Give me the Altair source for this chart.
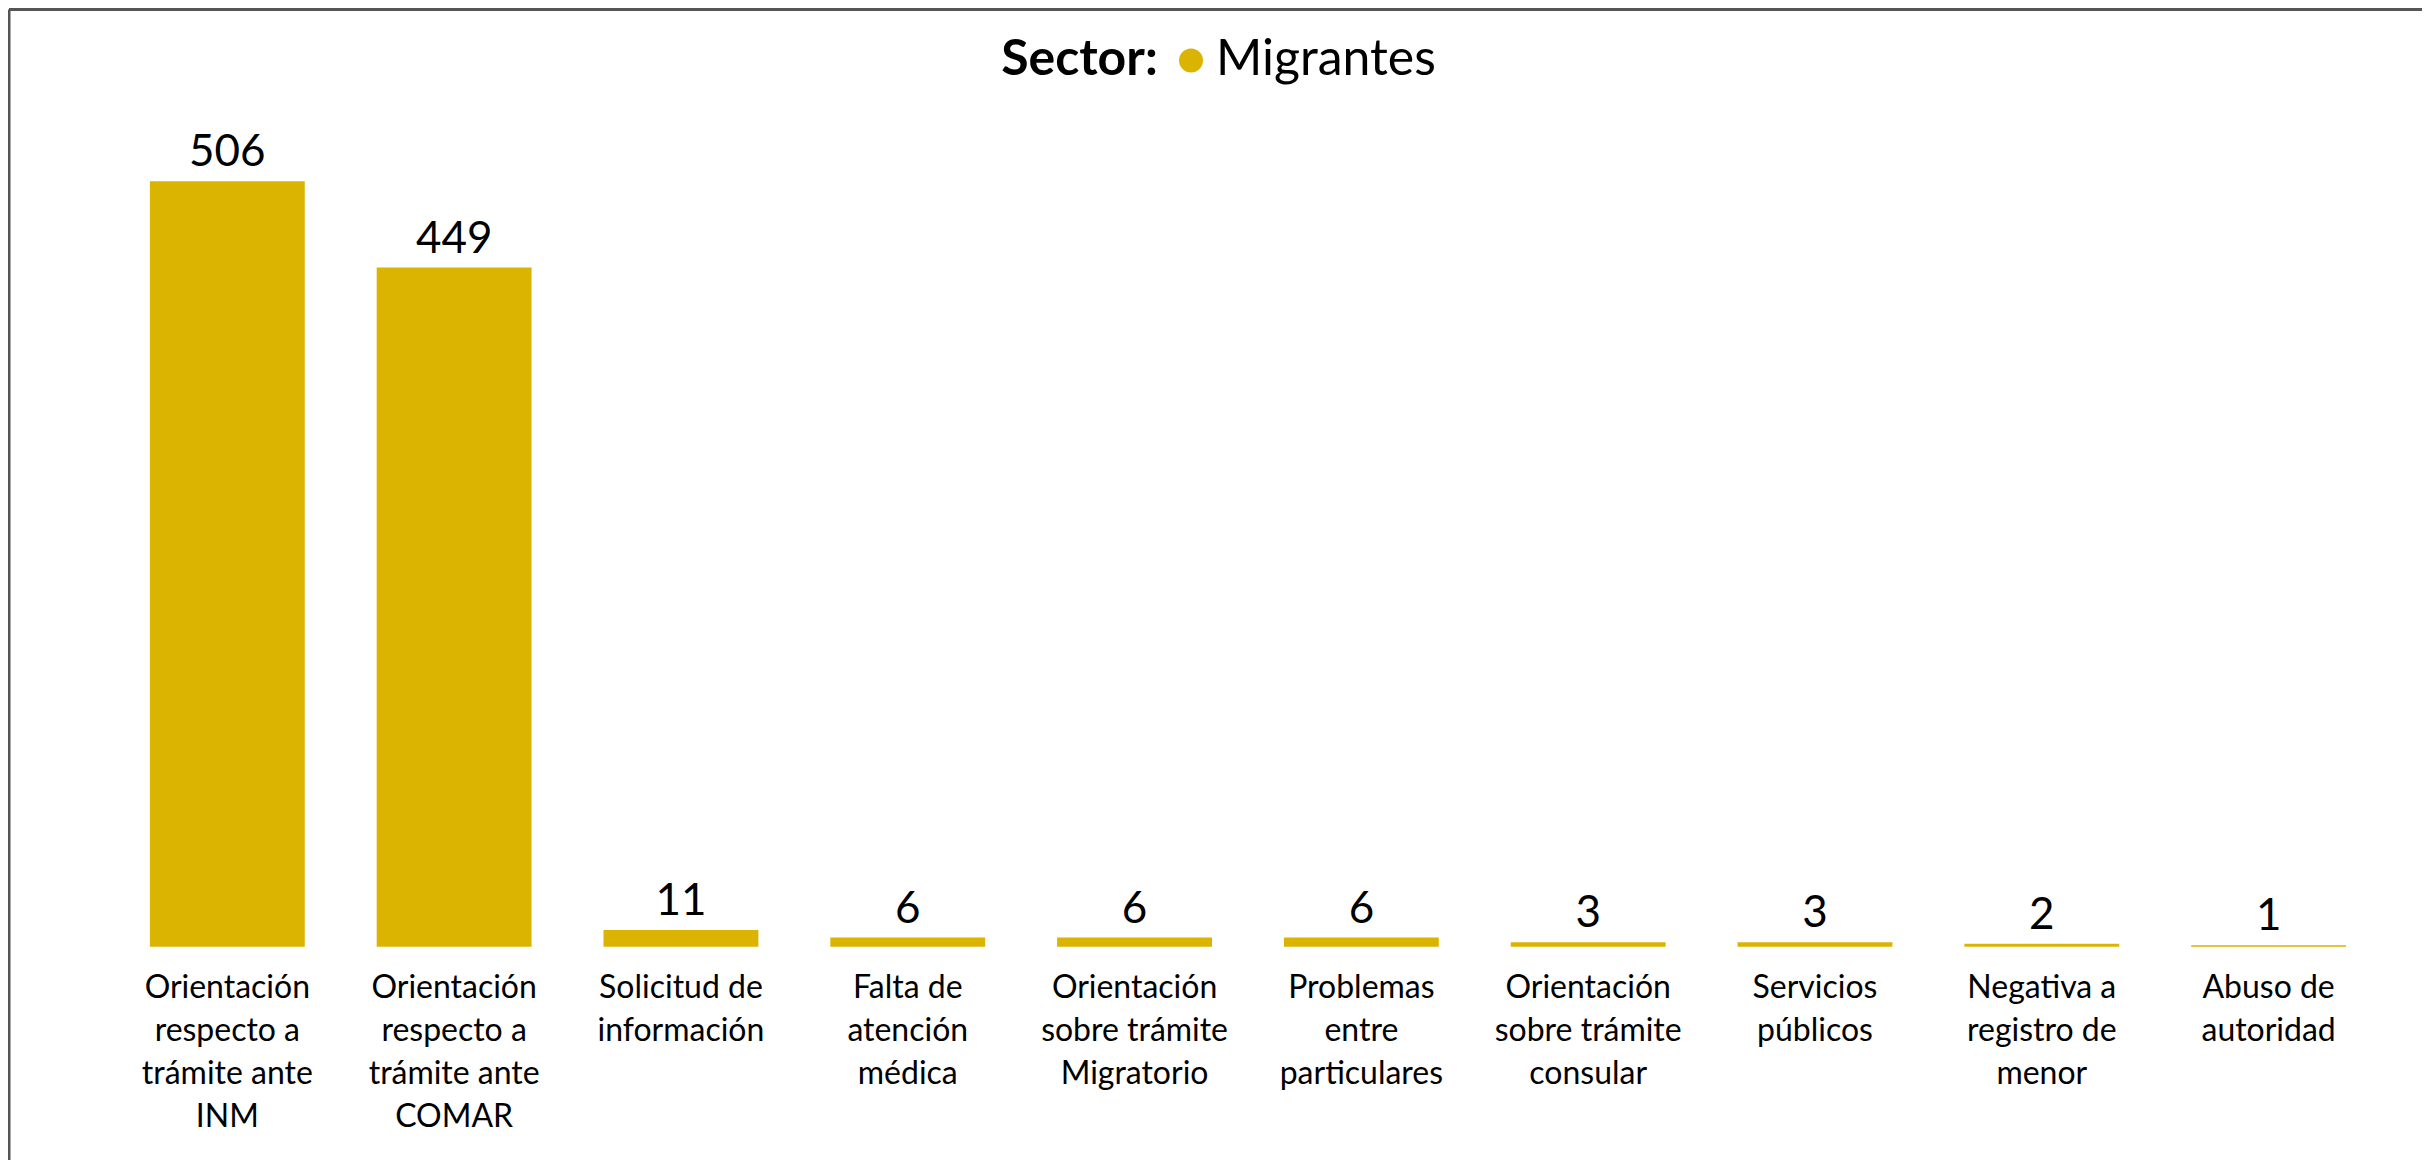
import altair as alt
import pandas as pd

categories = [
    "Orientación respecto a trámite ante INM",
    "Orientación respecto a trámite ante COMAR",
    "Solicitud de información",
    "Falta de atención médica",
    "Orientación sobre trámite Migratorio",
    "Problemas entre particulares",
    "Orientación sobre trámite consular",
    "Servicios públicos",
    "Negativa a registro de menor",
    "Abuso de autoridad",
]
label_lines = [
    "Orientación\nrespecto a\ntrámite ante\nINM",
    "Orientación\nrespecto a\ntrámite ante\nCOMAR",
    "Solicitud de\ninformación",
    "Falta de\natención\nmédica",
    "Orientación\nsobre trámite\nMigratorio",
    "Problemas\nentre\nparticulares",
    "Orientación\nsobre trámite\nconsular",
    "Servicios\npúblicos",
    "Negativa a\nregistro de\nmenor",
    "Abuso de\nautoridad",
]
values = [506, 449, 11, 6, 6, 6, 3, 3, 2, 1]
sector = ["Migrantes"] * len(values)

df = pd.DataFrame({"cat": label_lines, "full": categories, "value": values, "sector": sector})

FONT = "Lato"
YELLOW = "#DAB400"

x = alt.X(
    "cat:N",
    sort=None,
    title=None,
    scale=alt.Scale(paddingInner=0.32, paddingOuter=0.16),
    axis=alt.Axis(
        labelAngle=0,
        labelExpr="split(datum.label, '\\n')",
        labelFont=FONT,
        labelFontSize=32,
        labelLineHeight=43,
        labelColor="#000000",
        labelBaseline="top",
        labelPadding=26,
        domain=False,
        ticks=False,
        grid=False,
        labelLimit=0,
    ),
)
y = alt.Y(
    "value:Q",
    title=None,
    scale=alt.Scale(domain=[0, 506], nice=False, zero=True),
    axis=None,
)

bars = alt.Chart(df).mark_bar(size=155).encode(
    x=x,
    y=y,
    color=alt.Color(
        "sector:N",
        scale=alt.Scale(domain=["Migrantes"], range=[YELLOW]),
        legend=alt.Legend(
            title="Sector:",
            orient="none",
            legendX=888,
            legendY=-146,
            direction="horizontal",
            titleOrient="left",
            titleFont=FONT,
            titleFontSize=50,
            titleFontWeight="bold",
            titleColor="#000000",
            titlePadding=8,
            titleBaseline="middle",
            labelFont=FONT,
            labelFontSize=50,
            labelColor="#000000",
            labelOffset=0,
            labelLimit=0,
            symbolType="circle",
            symbolSize=576,
            symbolStrokeWidth=0,
            symbolOpacity=1,
        ),
    ),
)

text = alt.Chart(df).mark_text(
    font=FONT, fontSize=44, color="#000000", baseline="alphabetic", dy=-15
).encode(x=x, y=y, text="value:Q")

frame_df = pd.DataFrame({"k": [0]})
frame_top = alt.Chart(frame_df).mark_rule(color="#555555", strokeWidth=3).encode(
    x=alt.value(-105), x2=alt.value(2310), y=alt.value(-172)
)
frame_left = alt.Chart(frame_df).mark_rule(color="#555555", strokeWidth=3).encode(
    x=alt.value(-105), y=alt.value(-172), y2=alt.value(985)
)

chart = (
    alt.layer(bars, text, frame_top, frame_left)
    .properties(
        width=2270,
        height=766,
        background="white",
        autosize=alt.AutoSizeParams(type="none"),
        padding={"left": 106, "top": 173, "right": 40, "bottom": 213},
    )
    .configure_view(strokeWidth=0, stroke=None)
)

chart.save("out.html", embed_options={"renderer": "svg", "actions": False})
